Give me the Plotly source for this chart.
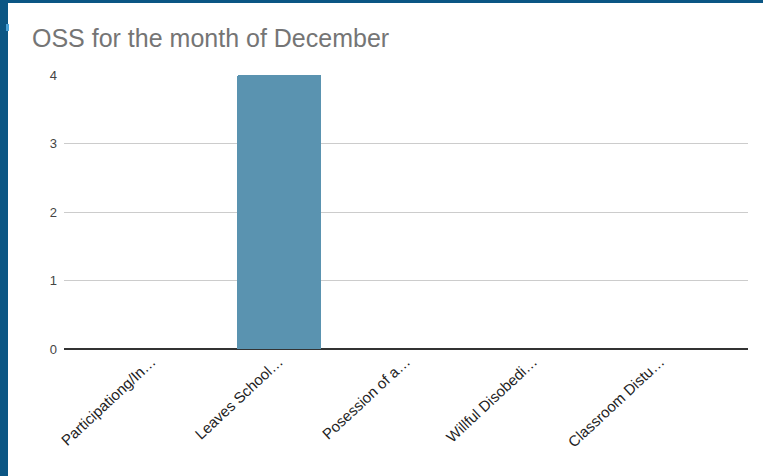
import plotly.graph_objects as go

categories = ["Participationg/In…", "Leaves School…", "Posession of a…", "Willful Disobedi…", "Classroom Distu…"]
values = [0, 4, 0, 0, 0]
y_ticks = [0, 1, 2, 3, 4]
title_text = "OSS for the month of December"

fig = go.Figure()
fig.add_trace(go.Bar(
    x=list(range(len(categories))), y=values,
    marker=dict(color="#5a93b0", line=dict(width=0), cornerradius=2),
    width=0.655,
    hoverinfo="skip",
))

W, H = 763, 476
L, R, T, B = 64, 15, 75, 127
pw, ph = W - L - R, H - T - B

def px(x):
    return (x - L) / pw

def py(y):
    return (H - B - y) / ph

border = "#0b5684"
shapes = [
    dict(type="rect", xref="paper", yref="paper", x0=px(0), x1=px(8), y0=py(H), y1=py(0),
         fillcolor=border, line=dict(width=0), layer="below"),
    dict(type="rect", xref="paper", yref="paper", x0=px(0), x1=px(W), y0=py(3), y1=py(0),
         fillcolor=border, line=dict(width=0), layer="below"),
    dict(type="rect", xref="paper", yref="paper", x0=px(6), x1=px(9), y0=py(31), y1=py(24),
         fillcolor="#4aa3d8", line=dict(width=0), layer="below"),
]

fig.update_layout(
    width=W, height=H,
    margin=dict(l=L, r=R, t=T, b=B, autoexpand=False),
    paper_bgcolor="white", plot_bgcolor="white",
    showlegend=False,
    shapes=shapes,
    title=dict(text=title_text, xref="container", yref="container", x=32 / W, xanchor="left",
               y=1 - 38 / H, yanchor="middle",
               font=dict(family="Liberation Sans, Arial", size=25, color="#757575")),
    font=dict(family="Liberation Sans, Arial", size=13, color="#444444"),
    bargap=0,
)
fig.update_xaxes(
    tickmode="array", tickvals=list(range(len(categories))), ticktext=categories,
    range=[-0.69, 4.69], tickangle=-43, showgrid=False, zeroline=False,
    showline=False, ticks="", tickfont=dict(size=15, color="#222222"),
)
fig.update_yaxes(
    range=[0, 4], tickvals=y_ticks, showgrid=True, gridcolor="#cccccc", gridwidth=1,
    zeroline=True, zerolinecolor="#333333", zerolinewidth=1.5, showline=False,
    ticks="", ticklabelstandoff=6, tickfont=dict(size=13, color="#444444"),
)

fig.write_html("out.html", config={"displayModeBar": False},
               post_script="document.body.style.margin='0';document.body.style.overflow='hidden';")
